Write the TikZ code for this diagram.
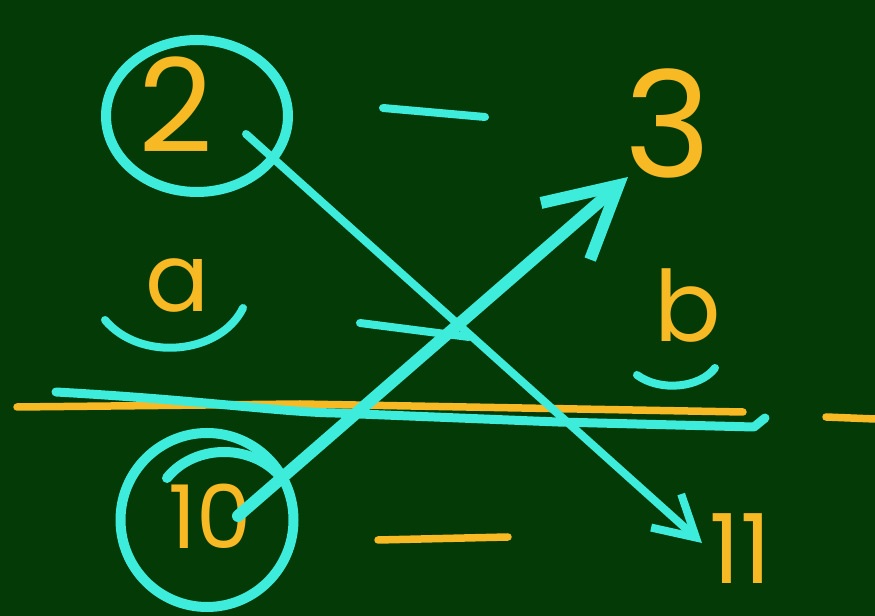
\documentclass[tikz,border=0pt]{standalone}
\usepackage{fontspec}
\setmainfont{Poppins}
\usetikzlibrary{positioning,arrows.meta,shapes.geometric}
\definecolor{board}{RGB}{4,58,6}
\definecolor{chalkcyan}{RGB}{62,236,220}
\definecolor{chalkorange}{RGB}{247,185,36}

\begin{document}
\begin{tikzpicture}[x=0.2mm,y=-0.2mm,line cap=round,line join=round,
  digit/.style={text=chalkorange,inner sep=0pt},
  ring/.style={draw=chalkcyan,ellipse,line width=2mm,inner sep=0pt},
  cyanline/.style={draw=chalkcyan,line width=1.6mm},
  orangeline/.style={draw=chalkorange,line width=1.5mm}]
  \useasboundingbox[fill=board] (0,0) rectangle (875,616);
  % numbers and letters
  \node[digit,font=\fontsize{74}{74}\selectfont] (two) at (176,105) {2};
  \node[digit,font=\fontsize{84}{84}\selectfont] (three) at (668,123) {3};
  \node[digit,font=\fontsize{54}{54}\selectfont] (a) at (178,286) {a};
  \node[digit,font=\fontsize{56}{56}\selectfont] (b) at (688,306) {b};
  \node[digit,font=\fontsize{50}{50}\selectfont] (ten) at (210,516) {10};
  \node[digit,font=\fontsize{55}{55}\selectfont] (eleven) at (740,549) {11};
  % rings
  \node[ring,minimum width=36.4mm,minimum height=30.4mm] (tworing) at (197,116) {};
  \node[ring,minimum width=34.6mm,minimum height=34.8mm] (tenring) at (207,520) {};
  \draw[cyanline,line width=2mm] (167,478) .. controls (195,443) and (255,443) .. (283,480);
  % marks under a and b
  \draw[cyanline] (105,320) .. controls (140,362) and (220,355) .. (243,308);
  \draw[cyanline] (637,375) .. controls (660,392) and (700,388) .. (715,368);
  % dashes
  \draw[cyanline] (383,108) -- (485,117);
  \draw[cyanline] (360,323) -- (469,337);
  \draw[orangeline] (378,540) -- (508,537);
  \draw[orangeline] (826,417) -- (875,419);
  % the long lines
  \draw[orangeline] (17,407) -- (300,404) -- (743,412);
  \draw[cyanline,line width=1.8mm] (56,392) .. controls (200,400) and (280,412) .. (335,413)
    -- (558,422) -- (754,427) -- (765,418);
  % arrows
  \draw[cyanline,line width=2.4mm,-{Straight Barb[length=14mm,width=15mm]}]
    ([xshift=5.6mm]ten.center) -- ([xshift=-8mm,yshift=-10.8mm]three.center);
  \draw[cyanline,-{Straight Barb[length=8mm,width=9mm]}]
    ([xshift=14mm,yshift=-5.8mm]two.center) -- ([xshift=-7.6mm,yshift=1.2mm]eleven.center);
\end{tikzpicture}
\end{document}
